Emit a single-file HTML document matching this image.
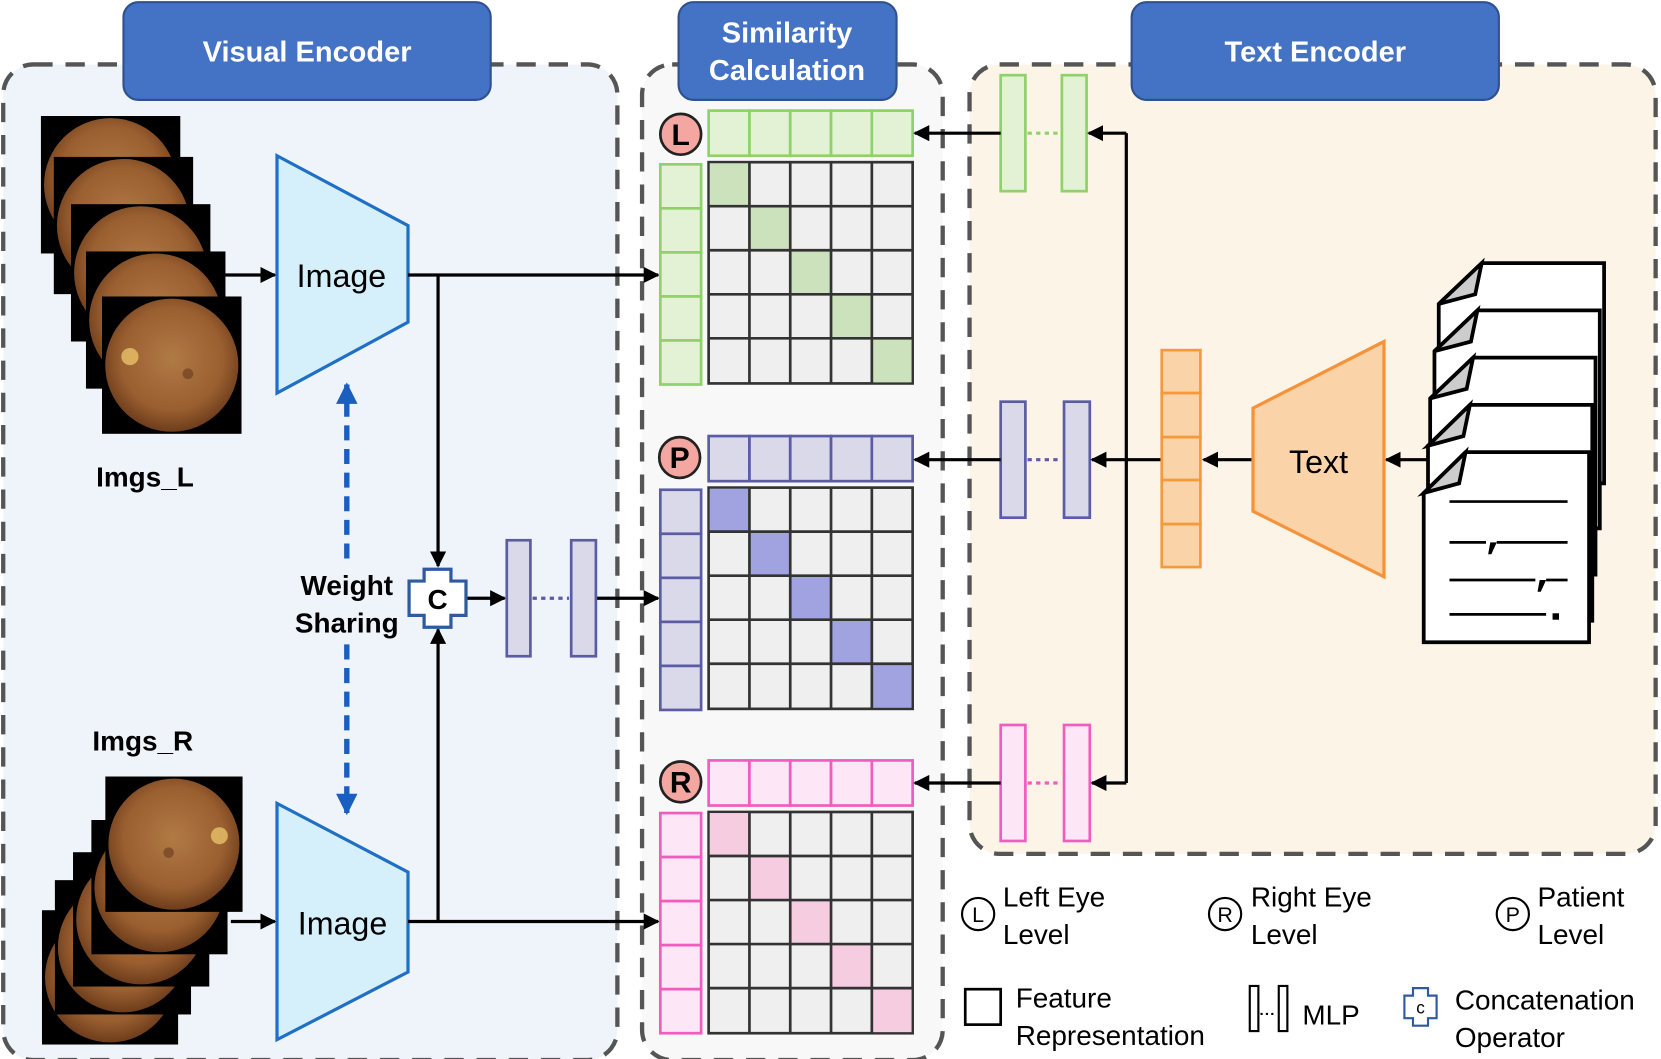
<!DOCTYPE html>
<html><head><meta charset="utf-8"><style>
html,body{margin:0;padding:0;background:#fff;}
svg{display:block;}
text{font-family:"Liberation Sans",Arial,sans-serif;}
</style></head><body>
<svg width="1661" height="1059" viewBox="0 0 1547 986" preserveAspectRatio="none" xmlns="http://www.w3.org/2000/svg">
<defs>
<radialGradient id="eye" cx="0.5" cy="0.45" r="0.55">
<stop offset="0" stop-color="#b07a45"/><stop offset="0.7" stop-color="#9a5f30"/><stop offset="1" stop-color="#6e3d1c"/>
</radialGradient>
<symbol id="fL" viewBox="0 0 130 128"><rect width="130" height="128" fill="#000"/><circle cx="65" cy="64" r="62" fill="url(#eye)"/><circle cx="26" cy="56" r="8" fill="#e9c36a" opacity="0.8"/><circle cx="80" cy="72" r="5" fill="#5a2e14" opacity="0.5"/></symbol>
<symbol id="fR" viewBox="0 0 130 128"><rect width="130" height="128" fill="#000"/><circle cx="65" cy="64" r="62" fill="url(#eye)"/><circle cx="108" cy="56" r="8" fill="#e9c36a" opacity="0.8"/><circle cx="60" cy="72" r="5" fill="#5a2e14" opacity="0.5"/></symbol>
<marker id="ah" viewBox="0 0 10 10" refX="9" refY="5" markerWidth="5" markerHeight="5" orient="auto"><path d="M0,0 L10,5 L0,10 z" fill="#000"/></marker>
<marker id="bh" viewBox="0 0 10 10" refX="9" refY="5" markerWidth="4" markerHeight="4" orient="auto"><path d="M0,0 L10,5 L0,10 z" fill="#1a5fc0"/></marker>
</defs>

<!-- panels -->
<rect x="3" y="60" width="572" height="927" rx="28" fill="#eef4fa" stroke="#555" stroke-width="4" stroke-dasharray="18,12"/>
<rect x="598" y="60" width="280" height="927" rx="28" fill="#f8f8f8" stroke="#555" stroke-width="4" stroke-dasharray="18,12"/>
<rect x="903" y="60" width="639" height="735" rx="28" fill="#fcf4e7" stroke="#555" stroke-width="4" stroke-dasharray="18,12"/>

<!-- headers -->
<rect x="115" y="2" width="342" height="91" rx="14" fill="#4472c4" stroke="#2f528f" stroke-width="2"/>
<text x="286" y="49" font-size="27" font-weight="bold" fill="#fff" text-anchor="middle" dominant-baseline="central">Visual Encoder</text>
<rect x="632" y="2" width="203" height="91" rx="14" fill="#4472c4" stroke="#2f528f" stroke-width="2"/>
<text x="733" y="31" font-size="27" font-weight="bold" fill="#fff" text-anchor="middle" dominant-baseline="central">Similarity</text>
<text x="733" y="66" font-size="27" font-weight="bold" fill="#fff" text-anchor="middle" dominant-baseline="central">Calculation</text>
<rect x="1054" y="2" width="342" height="91" rx="14" fill="#4472c4" stroke="#2f528f" stroke-width="2"/>
<text x="1225" y="49" font-size="27" font-weight="bold" fill="#fff" text-anchor="middle" dominant-baseline="central">Text Encoder</text>

<!-- fundus stacks -->
<use href="#fL" x="38" y="108" width="130" height="128"/>
<use href="#fL" x="50" y="146" width="130" height="128"/>
<use href="#fL" x="66" y="190" width="130" height="128"/>
<use href="#fL" x="80" y="234" width="130" height="128"/>
<use href="#fL" x="95" y="276" width="130" height="128"/>
<use href="#fR" x="39" y="846" width="127" height="128"/>
<use href="#fR" x="51" y="818" width="127" height="128"/>
<use href="#fR" x="68" y="792" width="127" height="128"/>
<use href="#fR" x="85" y="762" width="127" height="128"/>
<use href="#fR" x="98" y="722" width="128" height="128"/>

<text x="135" y="444" font-size="26" font-weight="bold" text-anchor="middle" dominant-baseline="central">Imgs_L</text>
<text x="133" y="690" font-size="26" font-weight="bold" text-anchor="middle" dominant-baseline="central">Imgs_R</text>

<!-- image encoders -->
<polygon points="258,145 380,210 380,300 258,366" fill="#d6f0fb" stroke="#1f6fc6" stroke-width="3"/>
<text x="318" y="257" font-size="30" text-anchor="middle" dominant-baseline="central">Image</text>
<polygon points="258,748 380,812 380,905 258,968" fill="#d6f0fb" stroke="#1f6fc6" stroke-width="3"/>
<text x="319" y="860" font-size="30" text-anchor="middle" dominant-baseline="central">Image</text>

<g stroke="#000" stroke-width="3" fill="none">
<line x1="210" y1="256" x2="256" y2="256" marker-end="url(#ah)"/>
<line x1="215" y1="858" x2="256" y2="858" marker-end="url(#ah)"/>
<line x1="380" y1="256" x2="613" y2="256" marker-end="url(#ah)"/>
<line x1="380" y1="858" x2="613" y2="858" marker-end="url(#ah)"/>
<line x1="408" y1="256" x2="408" y2="527" marker-end="url(#ah)"/>
<line x1="408" y1="858" x2="408" y2="586" marker-end="url(#ah)"/>
<line x1="434" y1="557" x2="470" y2="557" marker-end="url(#ah)"/>
<line x1="555" y1="557" x2="613" y2="557" marker-end="url(#ah)"/>
</g>

<!-- weight sharing -->
<line x1="323" y1="520" x2="323" y2="358" stroke="#1a5fc0" stroke-width="5" stroke-dasharray="14,8" marker-end="url(#bh)"/>
<line x1="323" y1="600" x2="323" y2="757" stroke="#1a5fc0" stroke-width="5" stroke-dasharray="14,8" marker-end="url(#bh)"/>
<text x="323" y="545" font-size="26" font-weight="bold" text-anchor="middle" dominant-baseline="central">Weight</text>
<text x="323" y="580" font-size="26" font-weight="bold" text-anchor="middle" dominant-baseline="central">Sharing</text>

<!-- concat -->
<polygon points="395,530 420,530 420,541 434,541 434,573 420,573 420,584 395,584 395,573 381,573 381,541 395,541" fill="#fff" stroke="#2f5aa0" stroke-width="3"/>
<text x="407.5" y="558" font-size="26" font-weight="bold" text-anchor="middle" dominant-baseline="central">C</text>

<!-- center MLP -->
<rect x="472" y="503" width="22" height="108" fill="#d9d9ea" stroke="#5b5ba6" stroke-width="2.5"/>
<rect x="532" y="503" width="23" height="108" fill="#d9d9ea" stroke="#5b5ba6" stroke-width="2.5"/>
<line x1="496" y1="557" x2="530" y2="557" stroke="#5b5ba6" stroke-width="3" stroke-dasharray="4,4"/>

<!-- similarity matrices -->
<g id="mats" stroke-width="2.5">
<!-- L -->
<g stroke="#8fd16a" fill="#e3f1d4">
<rect x="660" y="103" width="38" height="42"/><rect x="698" y="103" width="38" height="42"/><rect x="736" y="103" width="38" height="42"/><rect x="774" y="103" width="38" height="42"/><rect x="812" y="103" width="38" height="42"/>
<rect x="615" y="153" width="38" height="41"/><rect x="615" y="194" width="38" height="41"/><rect x="615" y="235" width="38" height="41"/><rect x="615" y="276" width="38" height="41"/><rect x="615" y="317" width="38" height="41"/>
</g>
<!-- P -->
<g stroke="#5b5ba6" fill="#d9d9ea">
<rect x="660" y="406" width="38" height="42"/><rect x="698" y="406" width="38" height="42"/><rect x="736" y="406" width="38" height="42"/><rect x="774" y="406" width="38" height="42"/><rect x="812" y="406" width="38" height="42"/>
<rect x="615" y="456" width="38" height="41"/><rect x="615" y="497" width="38" height="41"/><rect x="615" y="538" width="38" height="41"/><rect x="615" y="579" width="38" height="41"/><rect x="615" y="620" width="38" height="41"/>
</g>
<!-- R -->
<g stroke="#f15cc0" fill="#fde6f6">
<rect x="660" y="708" width="38" height="42"/><rect x="698" y="708" width="38" height="42"/><rect x="736" y="708" width="38" height="42"/><rect x="774" y="708" width="38" height="42"/><rect x="812" y="708" width="38" height="42"/>
<rect x="615" y="757" width="38" height="41"/><rect x="615" y="798" width="38" height="41"/><rect x="615" y="839" width="38" height="41"/><rect x="615" y="880" width="38" height="41"/><rect x="615" y="921" width="38" height="41"/>
</g>
</g>

<g stroke="#333" stroke-width="2.5">
<!-- grid L -->
<rect x="660" y="151" width="190" height="206" fill="#efefef"/>
<rect x="661" y="152" width="37" height="40" fill="#cce2bc" stroke="none"/>
<rect x="698" y="192" width="38" height="41" fill="#cce2bc" stroke="none"/>
<rect x="736" y="233" width="38" height="41" fill="#cce2bc" stroke="none"/>
<rect x="774" y="274" width="38" height="41" fill="#cce2bc" stroke="none"/>
<rect x="812" y="315" width="37" height="41" fill="#cce2bc" stroke="none"/>
<path d="M698,151V357M736,151V357M774,151V357M812,151V357M660,192H850M660,233H850M660,274H850M660,315H850" fill="none"/>
<!-- grid P -->
<rect x="660" y="454" width="190" height="206" fill="#efefef"/>
<rect x="661" y="455" width="37" height="40" fill="#a0a3df" stroke="none"/>
<rect x="698" y="495" width="38" height="41" fill="#a0a3df" stroke="none"/>
<rect x="736" y="536" width="38" height="41" fill="#a0a3df" stroke="none"/>
<rect x="774" y="577" width="38" height="41" fill="#a0a3df" stroke="none"/>
<rect x="812" y="618" width="37" height="41" fill="#a0a3df" stroke="none"/>
<path d="M698,454V660M736,454V660M774,454V660M812,454V660M660,495H850M660,536H850M660,577H850M660,618H850" fill="none"/>
<!-- grid R -->
<rect x="660" y="756" width="190" height="206" fill="#efefef"/>
<rect x="661" y="757" width="37" height="40" fill="#f6cce0" stroke="none"/>
<rect x="698" y="797" width="38" height="41" fill="#f6cce0" stroke="none"/>
<rect x="736" y="838" width="38" height="41" fill="#f6cce0" stroke="none"/>
<rect x="774" y="879" width="38" height="41" fill="#f6cce0" stroke="none"/>
<rect x="812" y="920" width="37" height="41" fill="#f6cce0" stroke="none"/>
<path d="M698,756V962M736,756V962M774,756V962M812,756V962M660,797H850M660,838H850M660,879H850M660,920H850" fill="none"/>
</g>

<g stroke="#222" stroke-width="2.5" fill="#f4a6a0">
<circle cx="634" cy="125" r="19"/><circle cx="633" cy="426" r="19"/><circle cx="634" cy="728" r="19"/>
</g>
<text x="634" y="126" font-size="28" font-weight="bold" text-anchor="middle" dominant-baseline="central">L</text>
<text x="633" y="427" font-size="28" font-weight="bold" text-anchor="middle" dominant-baseline="central">P</text>
<text x="634" y="729" font-size="28" font-weight="bold" text-anchor="middle" dominant-baseline="central">R</text>

<!-- text encoder MLPs -->
<g stroke-width="2.5">
<rect x="932" y="70" width="23" height="108" fill="#e3f1d4" stroke="#8fd16a"/>
<rect x="989" y="70" width="23" height="108" fill="#e3f1d4" stroke="#8fd16a"/>
<line x1="957" y1="124" x2="987" y2="124" stroke="#8fd16a" stroke-width="3" stroke-dasharray="4,4"/>
<rect x="932" y="374" width="23" height="108" fill="#d9d9ea" stroke="#5b5ba6"/>
<rect x="991" y="374" width="24" height="108" fill="#d9d9ea" stroke="#5b5ba6"/>
<line x1="957" y1="428" x2="989" y2="428" stroke="#5b5ba6" stroke-width="3" stroke-dasharray="4,4"/>
<rect x="932" y="675" width="23" height="108" fill="#fde6f6" stroke="#f15cc0"/>
<rect x="991" y="675" width="24" height="108" fill="#fde6f6" stroke="#f15cc0"/>
<line x1="957" y1="729" x2="989" y2="729" stroke="#f15cc0" stroke-width="3" stroke-dasharray="4,4"/>
</g>

<g stroke="#000" stroke-width="3" fill="none">
<line x1="932" y1="124" x2="852" y2="124" marker-end="url(#ah)"/>
<line x1="932" y1="428" x2="852" y2="428" marker-end="url(#ah)"/>
<line x1="932" y1="729" x2="852" y2="729" marker-end="url(#ah)"/>
<path d="M1049,124V729"/>
<line x1="1049" y1="124" x2="1014" y2="124" marker-end="url(#ah)"/>
<line x1="1049" y1="729" x2="1017" y2="729" marker-end="url(#ah)"/>
<line x1="1082" y1="428" x2="1017" y2="428" marker-end="url(#ah)"/>
<line x1="1167" y1="428" x2="1121" y2="428" marker-end="url(#ah)"/>
<line x1="1330" y1="428" x2="1291" y2="428" marker-end="url(#ah)"/>
</g>

<!-- orange column -->
<g stroke="#f59a3a" stroke-width="2.5" fill="#fbd3a8">
<rect x="1082" y="326" width="36" height="40"/><rect x="1082" y="366" width="36" height="41"/><rect x="1082" y="407" width="36" height="40"/><rect x="1082" y="447" width="36" height="41"/><rect x="1082" y="488" width="36" height="40"/>
</g>
<polygon points="1167,380 1289,318 1289,537 1167,476" fill="#fbd3a8" stroke="#f5923a" stroke-width="3"/>
<text x="1228" y="430" font-size="30" text-anchor="middle" dominant-baseline="central">Text</text>

<!-- documents -->
<g stroke="#000" stroke-width="3.5" stroke-linejoin="miter">
<polygon points="1380,245 1494,245 1494,450 1340,450 1340,283" fill="#fff"/>
<polygon points="1380,245 1374,274 1340,283" fill="#ccc"/>
<polygon points="1376,289 1490,289 1490,492 1336,492 1336,327" fill="#fff"/>
<polygon points="1376,289 1370,318 1336,327" fill="#ccc"/>
<polygon points="1372,333 1486,333 1486,535 1332,535 1332,371" fill="#fff"/>
<polygon points="1372,333 1366,362 1332,371" fill="#ccc"/>
<polygon points="1369,377 1483,377 1483,578 1330,578 1330,415" fill="#fff"/>
<polygon points="1369,377 1363,406 1330,415" fill="#ccc"/>
<polygon points="1365,421 1480,421 1480,598 1326,598 1326,459" fill="#fff"/>
<polygon points="1365,421 1359,450 1326,459" fill="#ccc"/>
</g>
<g stroke="#000" stroke-width="2.5">
<line x1="1350" y1="467" x2="1460" y2="467"/>
<line x1="1350" y1="505" x2="1384" y2="505"/><line x1="1394" y1="505" x2="1460" y2="505"/>
<line x1="1350" y1="540" x2="1430" y2="540"/><line x1="1440" y1="540" x2="1460" y2="540"/>
<line x1="1350" y1="572" x2="1440" y2="572"/>
</g>
<path d="M1388,505 h6 l-5,11 h-3z M1434,540 h6 l-5,11 h-3z" fill="#000"/>
<rect x="1446" y="571" width="6" height="6" fill="#000"/>

<!-- legend -->
<g fill="none" stroke="#000" stroke-width="2">
<circle cx="911" cy="851" r="15"/><circle cx="1141" cy="851" r="15"/><circle cx="1409" cy="851" r="15"/>
</g>
<text x="911" y="852" font-size="20" text-anchor="middle" dominant-baseline="central">L</text>
<text x="1141" y="852" font-size="20" text-anchor="middle" dominant-baseline="central">R</text>
<text x="1409" y="852" font-size="20" text-anchor="middle" dominant-baseline="central">P</text>
<g font-size="26" dominant-baseline="central">
<text x="934" y="835">Left Eye</text><text x="934" y="870">Level</text>
<text x="1165" y="835">Right Eye</text><text x="1165" y="870">Level</text>
<text x="1432" y="835">Patient</text><text x="1432" y="870">Level</text>
<text x="946" y="929">Feature</text><text x="946" y="964">Representation</text>
<text x="1213" y="945">MLP</text>
<text x="1355" y="931">Concatenation</text><text x="1355" y="966">Operator</text>
</g>
<rect x="899" y="921" width="33" height="33" fill="none" stroke="#000" stroke-width="2.5"/>
<rect x="1164" y="918" width="8" height="42" fill="none" stroke="#000" stroke-width="2"/>
<rect x="1191" y="918" width="8" height="42" fill="none" stroke="#000" stroke-width="2"/>
<line x1="1174" y1="944" x2="1189" y2="944" stroke="#000" stroke-width="2" stroke-dasharray="2,3"/>
<polygon points="1316,920 1330,920 1330,927 1338,927 1338,948 1330,948 1330,955 1316,955 1316,948 1308,948 1308,927 1316,927" fill="#fff" stroke="#2f5aa0" stroke-width="2"/>
<text x="1323" y="938" font-size="16" text-anchor="middle" dominant-baseline="central">c</text>
</svg>
</body></html>
